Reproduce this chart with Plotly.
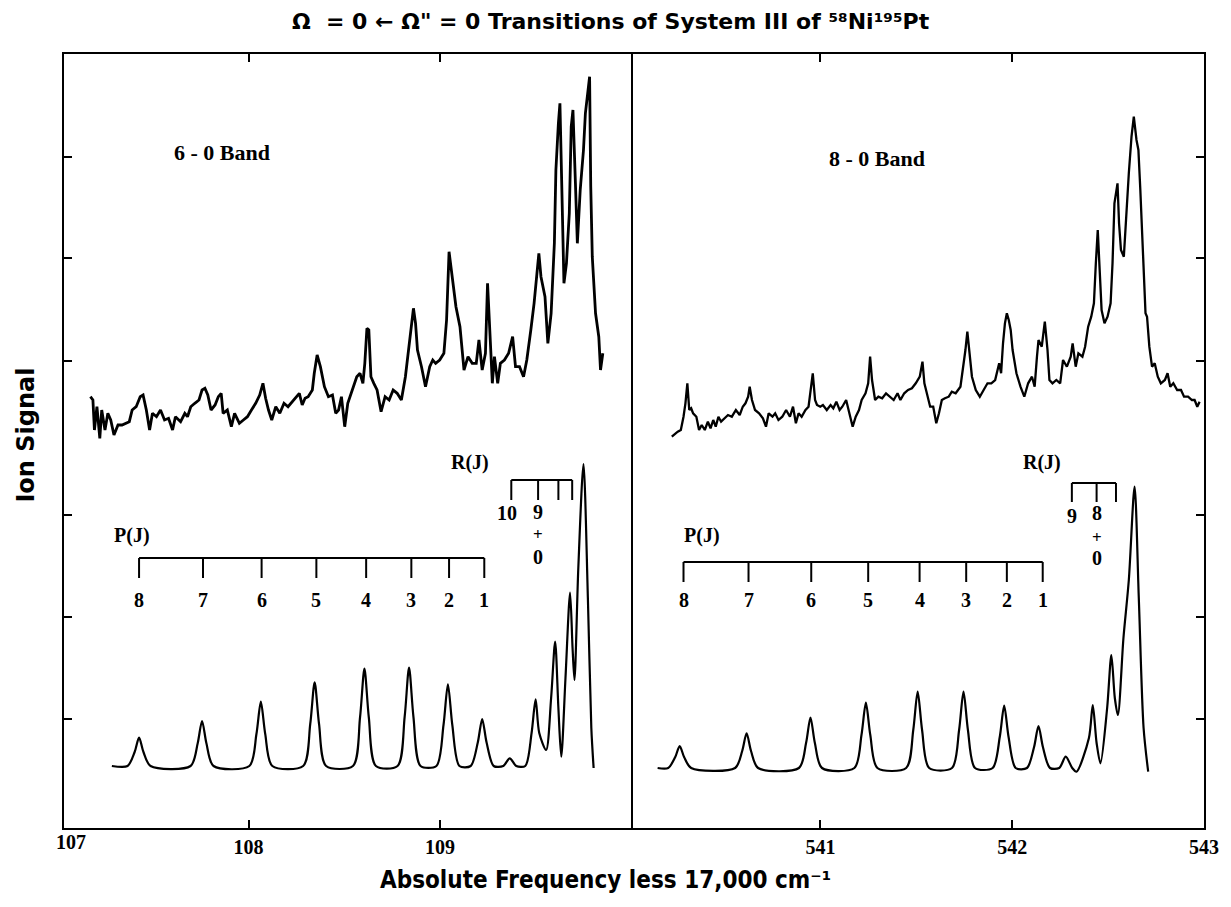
import plotly.graph_objects as go

# ---------------- data ----------------
# experimental trace, 6-0 band (frequency less 17,000 cm-1, ion signal arb.)
exp6_x = [107.174,107.187,107.195,107.208,107.223,107.233,107.250,107.265,107.280,107.297,107.318,107.339,107.377,107.392,107.413,107.434,107.449,107.466,107.483,107.498,107.519,107.540,107.561,107.582,107.603,107.618,107.645,107.667,107.681,107.698,107.719,107.741,107.757,107.772,107.787,107.804,107.825,107.842,107.857,107.867,107.889,107.910,107.927,107.952,107.973,107.994,108.015,108.037,108.058,108.075,108.089,108.104,108.121,108.142,108.163,108.185,108.206,108.227,108.248,108.265,108.280,108.295,108.311,108.333,108.343,108.358,108.375,108.396,108.417,108.438,108.455,108.470,108.485,108.502,108.518,108.540,108.565,108.582,108.597,108.607,108.618,108.628,108.639,108.654,108.671,108.692,108.713,108.734,108.755,108.776,108.798,108.819,108.840,108.853,108.861,108.872,108.882,108.903,108.924,108.946,108.962,108.977,108.998,109.020,109.034,109.047,109.062,109.083,109.104,109.125,109.146,109.168,109.189,109.203,109.220,109.237,109.248,109.258,109.273,109.284,109.301,109.315,109.336,109.358,109.379,109.394,109.415,109.436,109.453,109.474,109.491,109.506,109.516,109.527,109.548,109.563,109.580,109.597,109.605,109.618,109.626,109.635,109.647,109.660,109.675,109.685,109.694,109.707,109.717,109.732,109.749,109.759,109.770,109.781,109.787,109.795,109.812,109.829,109.838,109.850]
exp6_y = [4.313,4.28,3.98,4.213,3.897,4.18,3.98,4.147,4.08,3.93,4.03,4.03,4.063,4.18,4.213,4.313,4.33,4.18,3.98,4.147,4.113,4.18,4.08,4.097,3.98,4.113,4.063,4.147,4.113,4.213,4.247,4.28,4.38,4.397,4.33,4.18,4.23,4.313,4.347,4.147,4.18,4.013,4.147,4.047,4.08,4.113,4.18,4.247,4.33,4.447,4.297,4.18,4.08,4.213,4.147,4.247,4.213,4.263,4.313,4.347,4.23,4.297,4.313,4.38,4.547,4.73,4.613,4.413,4.313,4.33,4.147,4.18,4.313,4.013,4.247,4.363,4.513,4.547,4.447,4.647,4.997,4.98,4.513,4.447,4.38,4.163,4.313,4.28,4.38,4.347,4.28,4.513,4.847,5.047,5.197,5.047,4.78,4.613,4.413,4.613,4.68,4.647,4.68,4.747,5.08,5.763,5.513,5.213,5.013,4.58,4.713,4.647,4.647,4.88,4.58,4.747,5.447,5.013,4.447,4.713,4.447,4.647,4.68,4.747,4.913,4.613,4.613,4.513,4.68,4.98,5.247,5.547,5.747,5.513,5.313,4.847,5.147,5.847,6.58,7.047,7.247,6.48,5.447,5.647,6.147,7.013,7.18,6.447,5.847,6.38,6.78,7.147,7.313,7.513,6.413,5.713,5.147,4.913,4.58,4.747]

# experimental trace, 8-0 band
exp8_x = [540.225,540.239,540.256,540.272,540.286,540.296,540.306,540.316,540.326,540.336,540.353,540.367,540.381,540.397,540.413,540.427,540.441,540.454,540.468,540.482,540.498,540.518,540.538,540.559,540.579,540.595,540.609,540.623,540.631,540.643,540.659,540.680,540.700,540.716,540.730,540.750,540.764,540.781,540.801,540.821,540.841,540.857,540.872,540.886,540.902,540.922,540.938,540.952,540.960,540.972,540.982,540.999,541.013,541.033,541.053,541.067,541.083,541.100,541.114,541.134,541.154,541.168,541.184,541.201,541.215,541.235,541.249,541.259,541.269,541.285,541.302,541.322,541.342,541.362,541.382,541.402,541.417,541.437,541.457,541.477,541.497,541.518,541.532,541.542,541.558,541.572,541.588,541.604,541.618,541.633,541.649,541.669,541.685,541.705,541.730,541.746,541.756,541.766,541.776,541.790,541.810,541.831,541.851,541.871,541.891,541.911,541.932,541.942,541.952,541.962,541.972,541.982,541.992,542.002,542.022,542.043,542.063,542.083,542.103,542.117,542.129,542.137,542.154,542.170,542.184,542.194,542.210,542.230,542.250,542.265,542.285,542.305,542.315,542.331,542.345,542.366,542.380,542.396,542.412,542.426,542.436,542.446,542.456,542.466,542.481,542.497,542.513,542.523,542.533,542.549,542.557,542.567,542.582,542.594,542.608,542.622,542.634,542.648,542.658,542.668,542.683,542.695,542.703,542.715,542.729,542.743,542.759,542.775,542.796,542.810,542.824,542.840,542.860,542.880,542.896,542.917,542.937,542.951,542.965,542.977]
exp8_y = [3.913,3.94,3.963,3.98,4.113,4.247,4.447,4.18,4.197,4.147,4.113,3.98,4.03,3.98,4.063,3.997,4.08,4.013,4.113,4.063,4.097,4.13,4.113,4.18,4.13,4.213,4.247,4.313,4.413,4.28,4.18,4.147,4.097,4.013,4.147,4.113,4.147,4.08,4.113,4.18,4.113,4.213,4.047,4.147,4.113,4.18,4.213,4.447,4.547,4.28,4.23,4.213,4.23,4.18,4.23,4.197,4.263,4.18,4.213,4.28,4.13,4.013,4.113,4.18,4.28,4.347,4.447,4.713,4.48,4.28,4.313,4.297,4.347,4.313,4.28,4.347,4.28,4.347,4.38,4.397,4.447,4.513,4.663,4.447,4.313,4.213,4.213,4.047,4.147,4.28,4.297,4.313,4.363,4.347,4.413,4.613,4.78,4.963,4.78,4.513,4.38,4.313,4.38,4.447,4.447,4.48,4.647,4.547,4.847,5.047,5.147,5.08,4.98,4.78,4.547,4.413,4.313,4.447,4.513,4.413,4.713,4.88,4.813,5.063,4.78,4.48,4.447,4.48,4.447,4.68,4.613,4.713,4.847,4.613,4.747,4.713,4.813,5.013,5.113,5.247,5.647,5.98,5.58,5.18,5.047,5.113,5.247,5.647,6.247,6.447,6.047,5.78,5.713,6.113,6.547,6.913,7.113,6.88,6.78,6.38,5.647,5.147,5.113,4.813,4.613,4.647,4.513,4.447,4.48,4.547,4.413,4.447,4.38,4.38,4.313,4.313,4.28,4.28,4.213,4.263]

# simulated spectrum, 6-0 band
sim6_x = [107.286,107.368,107.405,107.428,107.451,107.488,107.697,107.734,107.757,107.780,107.817,108.004,108.041,108.064,108.087,108.124,108.285,108.322,108.345,108.368,108.405,108.545,108.582,108.605,108.628,108.665,108.778,108.815,108.838,108.861,108.898,108.981,109.018,109.041,109.064,109.101,109.160,109.197,109.220,109.243,109.280,109.330,109.364,109.398,109.445,109.478,109.499,109.518,109.554,109.580,109.601,109.618,109.633,109.655,109.679,109.692,109.702,109.722,109.749,109.772,109.790,109.802]
sim6_y = [0.62,0.62,0.76,0.903,0.76,0.62,0.62,0.845,1.07,0.845,0.62,0.62,0.94,1.263,0.94,0.62,0.62,1.04,1.457,1.04,0.62,0.62,1.105,1.593,1.105,0.62,0.62,1.11,1.603,1.11,0.62,0.62,1.03,1.437,1.03,0.62,0.62,0.855,1.09,0.855,0.62,0.62,0.697,0.62,0.62,0.95,1.287,0.95,0.78,1.30,1.863,1.20,0.713,1.50,2.353,1.80,1.48,2.60,3.64,2.30,1.00,0.60]

# simulated spectrum, 8-0 band
sim8_x = [540.151,540.206,540.243,540.266,540.289,540.326,540.555,540.592,540.615,540.638,540.675,540.888,540.925,540.948,540.971,541.008,541.177,541.214,541.237,541.260,541.297,541.447,541.484,541.507,541.530,541.567,541.686,541.723,541.746,541.769,541.806,541.898,541.935,541.958,541.981,542.018,542.077,542.114,542.137,542.160,542.197,542.245,542.279,542.313,542.335,542.400,542.420,542.440,542.460,542.495,542.517,542.535,542.551,542.580,542.608,542.638,542.660,542.685,542.709]
sim8_y = [0.60,0.60,0.71,0.82,0.71,0.60,0.60,0.77,0.947,0.77,0.60,0.60,0.85,1.103,0.85,0.60,0.60,0.93,1.253,0.93,0.60,0.60,0.98,1.363,0.98,0.60,0.60,0.98,1.363,0.98,0.60,0.60,0.91,1.223,0.91,0.60,0.60,0.81,1.02,0.81,0.60,0.60,0.713,0.60,0.563,0.90,1.23,0.85,0.647,1.20,1.73,1.30,1.13,1.90,2.48,3.413,2.30,1.00,0.563]

# rotational assignment combs
p6_pos = [107.428,107.762,108.068,108.354,108.614,108.850,109.047,109.231]
p6_lab = ["8","7","6","5","4","3","2","1"]
r6_pos = [109.372,109.512,109.618,109.690]
p8_pos = [540.286,540.625,540.952,541.249,541.517,541.760,541.972,542.159]
p8_lab = ["8","7","6","5","4","3","2","1"]
r8_pos = [542.311,542.440,542.541]

x6_ticks = [108, 109]
x8_ticks = [541, 542, 543]
y_ticks = [1.09, 2.11, 3.13, 4.67, 5.70, 6.71]

# ---------------- figure ----------------
BLACK = "#000000"
fig = go.Figure()
fig.add_trace(go.Scatter(x=exp6_x, y=exp6_y, mode="lines", line=dict(color=BLACK, width=2.8), xaxis="x", yaxis="y"))
fig.add_trace(go.Scatter(x=sim6_x, y=sim6_y, mode="lines", line=dict(color=BLACK, width=2.2, shape="spline", smoothing=0.8), xaxis="x", yaxis="y"))
fig.add_trace(go.Scatter(x=exp8_x, y=exp8_y, mode="lines", line=dict(color=BLACK, width=2.3), xaxis="x2", yaxis="y2"))
fig.add_trace(go.Scatter(x=sim8_x, y=sim8_y, mode="lines", line=dict(color=BLACK, width=2.2, shape="spline", smoothing=0.8), xaxis="x2", yaxis="y2"))

shapes = []
def comb(xref, yref, xs, ybar, ytick):
    shapes.append(dict(type="line", xref=xref, yref=yref, x0=xs[0], x1=xs[-1], y0=ybar, y1=ybar,
                       line=dict(color=BLACK, width=2)))
    for xv in xs:
        shapes.append(dict(type="line", xref=xref, yref=yref, x0=xv, x1=xv, y0=ybar, y1=ytick,
                           line=dict(color=BLACK, width=2)))

comb("x", "y", p6_pos, 2.70, 2.50)
comb("x", "y", r6_pos, 3.48, 3.28)
comb("x2", "y2", p8_pos, 2.66, 2.46)
comb("x2", "y2", r8_pos, 3.45, 3.26)

SERIF = "Liberation Serif"
ann = []
def txt(xref, yref, x, y, s, size=20):
    ann.append(dict(xref=xref, yref=yref, x=x, y=y, text=s, showarrow=False,
                    xanchor="center", yanchor="middle",
                    font=dict(family=SERIF, size=size, color=BLACK, weight="bold")))

for xv, lb in zip(p6_pos, p6_lab):
    txt("x", "y", xv, 2.28, lb)
for xv, lb in zip(p8_pos, p8_lab):
    txt("x2", "y2", xv, 2.28, lb)
txt("x", "y", 107.392, 2.93, "P(J)")
txt("x2", "y2", 540.381, 2.93, "P(J)")
txt("x", "y", 109.157, 3.66, "R(J)")
txt("x2", "y2", 542.154, 3.66, "R(J)")
txt("x", "y", 109.350, 3.15, "10")
txt("x", "y", 109.512, 3.16, "9")
txt("x", "y", 109.512, 2.94, "+", size=17)
txt("x", "y", 109.512, 2.71, "0")
txt("x2", "y2", 542.311, 3.12, "9")
txt("x2", "y2", 542.440, 3.15, "8")
txt("x2", "y2", 542.440, 2.91, "+", size=17)
txt("x2", "y2", 542.440, 2.70, "0")
txt("x", "y", 107.863, 6.76, "6 - 0 Band", size=22)
txt("x2", "y2", 541.295, 6.70, "8 - 0 Band", size=22)
txt("paper", "paper", 0.006, -0.018, "107", size=20)

SANS = "DejaVu Sans, sans-serif"
SANSC = "DejaVu Sans Condensed, DejaVu Sans, sans-serif"
def ptxt(x, y, s, size, family, angle=0):
    ann.append(dict(xref="paper", yref="paper", x=x, y=y, showarrow=False, text=s,
                    xanchor="center", yanchor="middle", textangle=angle,
                    font=dict(family=family, size=size, color=BLACK, weight="bold")))

ptxt(0.4795, 1.0415, "Ω  = 0 ← Ω\" = 0 Transitions of System III of ⁵⁸Ni¹⁹⁵Pt", 22, SANS)
ptxt(0.475, -0.0672, "Absolute Frequency less 17,000 cm⁻¹", 24, SANSC)
ptxt(-0.0335, 0.508, "Ion Signal", 24, SANS, angle=-90)

tickfont = dict(family=SERIF, size=20, color=BLACK, weight="bold")
common_x = dict(showline=True, linecolor=BLACK, linewidth=2, mirror="ticks", ticks="inside",
                ticklen=8, tickwidth=1.5, tickcolor=BLACK, showgrid=False, zeroline=False,
                tickfont=tickfont)
common_y = dict(range=[0, 7.74], tickvals=y_ticks, showticklabels=False, ticks="inside", ticklen=8,
                tickwidth=1.5, tickcolor=BLACK, showline=True, linecolor=BLACK, linewidth=2,
                showgrid=False, zeroline=False)
fig.update_layout(
    width=1223, height=899,
    margin=dict(l=56, r=18, t=46, b=79),
    paper_bgcolor="white", plot_bgcolor="white",
    showlegend=False,
    xaxis=dict(domain=[0, 0.497], range=[107.036, 109.995], tickvals=x6_ticks, anchor="y", **common_x),
    xaxis2=dict(domain=[0.497, 1], range=[540.01, 543.0], tickvals=x8_ticks, anchor="y2", **common_x),
    yaxis=dict(anchor="x", side="left", mirror=True, **common_y),
    yaxis2=dict(anchor="x2", side="right", mirror=False, **common_y),
    shapes=shapes,
    annotations=ann,
)
fig.write_html("out.html")
